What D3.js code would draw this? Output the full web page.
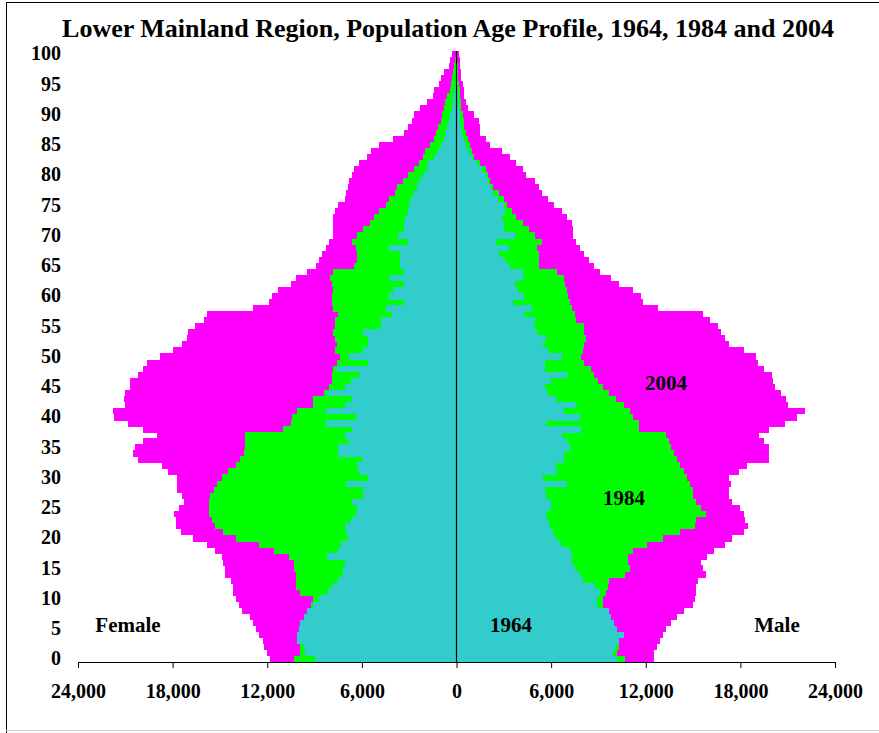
<!DOCTYPE html>
<html>
<head>
<meta charset="utf-8">
<script src="https://cdnjs.cloudflare.com/ajax/libs/d3/7.8.5/d3.min.js"></script>
<style>
    body { margin: 0; background: #fff; }
    #chart text { font-family: "Liberation Serif", "Times New Roman", serif; font-weight: bold; fill: #000; }
</style>
</head>
<body>
<div id="chart"></div>
<script>

// ages 0..100, one bar per single year of age
var ages = d3.range(0, 101);
var ageTicks = [0, 5, 10, 15, 20, 25, 30, 35, 40, 45, 50, 55, 60, 65, 70, 75, 80, 85, 90, 95, 100];
var popTicks = [-24000, -18000, -12000, -6000, 0, 6000, 12000, 18000, 24000];

// 2004
var female2004 = [11800,12000,12200,12300,12500,12700,12900,13100,13600,13800,
    14000,14200,14200,14300,14700,14700,14800,14900,15300,15800,
    16700,17500,17800,17800,17900,17600,17300,17400,17700,17700,
    17700,18300,18700,20200,20500,20400,19900,19000,19900,20800,
    21700,21800,21000,21100,21000,20700,20700,20200,19900,19600,
    18800,18000,17400,17100,17000,16600,16000,15800,12900,11900,
    11700,11300,10500,10200,9500,8900,8700,8500,8300,8100,
    7800,7800,7800,7800,7700,7500,7100,7000,6900,6800,
    6600,6500,6200,5700,5400,4900,4000,3300,3100,2800,
    2700,2300,1900,1500,1400,1100,1000,800,500,400,300];
var male2004 = [12500,12500,12700,12900,13100,13300,13600,14000,14400,15000,
    15100,15200,15200,15300,15800,15600,15500,15900,16300,17000,
    17500,18200,18500,18300,18200,18000,17500,17300,17300,17400,
    17300,17900,18400,19800,19800,19800,19500,19200,19800,20800,
    21600,22100,21000,20900,20600,20200,20100,20000,19500,19100,
    19000,18200,17300,17000,16800,16600,16100,15600,12800,11800,
    11700,11200,10300,9800,9100,8700,8400,8100,7800,7600,
    7400,7400,7300,7000,6700,6200,5800,5400,5200,5000,
    4400,4200,3800,3400,2900,2100,1900,1500,1500,1400,
    1100,700,600,500,500,400,300,300,250,200,150];

// 1984
var female1984 = [10300,9900,9900,9600,9500,9400,9300,9200,9200,9200,
    9100,9900,10200,10200,10200,10300,10300,10600,11600,12500,
    14000,14800,15300,15500,15700,15700,15700,15600,15400,15200,
    14900,14500,14000,13700,13500,13400,13400,13400,11000,10500,
    10400,10100,9100,9100,8400,8100,7900,7900,7800,7600,
    7400,7700,7600,7700,7800,7700,7700,7500,7800,7900,
    7900,7800,7900,8000,7800,6500,6300,6300,6400,6600,
    6300,5900,5500,5200,4900,4500,4300,3900,3800,3400,
    3100,2700,2400,2100,2000,1700,1400,1300,1200,1000,
    900,800,700,600,400,350,300,200,150,100,50];
var male1984 = [10700,10200,10300,10000,10200,10000,9800,9600,9500,9300,
    9300,9500,9600,9700,10700,11000,10900,10900,11200,12100,
    13100,14200,15100,15200,15800,15500,15200,15000,15000,14800,
    14600,14400,14200,14000,13800,13600,13500,13300,11600,11600,
    11200,11000,10600,10100,9700,9300,9000,8700,8500,8100,
    7900,8000,8100,8200,8100,8100,7600,7500,7300,7200,
    7100,7000,6900,6800,6400,5200,5200,5200,5100,5400,
    5000,4600,4200,3800,3500,3200,3000,2700,2300,2100,
    2000,1900,1500,1100,1000,850,700,600,500,450,
    400,300,300,250,200,150,120,100,80,50,30];

// 1964
var female1964 = [9000,9600,9700,10100,10100,10000,9900,9700,9500,9100,
    8700,8200,7900,7500,7200,7200,7100,8200,7500,7300,
    6900,7000,7100,6700,6400,6300,6600,5900,5900,7000,
    5600,6200,6300,6000,7500,7500,6800,7100,6600,8300,
    6400,8300,7100,6600,8200,7100,6700,6200,7600,5600,
    6800,5900,5600,5600,5900,4800,4800,4100,4500,3300,
    4300,4000,3300,4200,3300,3600,3600,3600,4300,3100,
    3700,3300,3300,3200,3100,3000,2900,2700,2500,2400,
    2100,1900,1800,1400,1200,1000,800,700,600,500,
    400,300,250,200,100,80,60,50,30,20,10];
var male1964 = [10200,9900,10100,10300,10600,10200,10000,9800,9700,8900,
    8900,9100,8800,8000,7800,7500,7300,7300,7200,6600,
    6300,6100,5900,5800,5700,6000,6000,5700,5600,7000,
    5500,6400,6300,6800,6800,7200,7000,6700,7900,5700,
    7800,6800,7600,6300,5800,5600,6000,7000,5600,5600,
    6700,5800,5500,5700,5100,4900,5000,4300,4800,3600,
    4300,3900,3700,4200,4200,3400,3100,2700,3300,2500,
    3700,3000,3000,2900,3100,3000,2600,2300,2200,2000,
    1900,1600,1300,1000,800,600,450,350,300,250,
    200,150,120,100,80,50,40,30,20,10,10];

var years = ["2004", "1984", "1964"];
var yearColors = ["#ff00ff", "#00ff00", "#33cccc"];
var femaleSeries = [female2004, female1984, female1964];
var maleSeries = [male2004, male1984, male1964];


// * Creating svg
var width = 879,
    height = 733;

var svg = d3.select("#chart").append("svg")
    .attr("width", width)
    .attr("height", height);

// frame
svg.append("line").attr("x1", 6.5).attr("x2", 6.5).attr("y1", 2).attr("y2", height)
    .attr("stroke", "#000");
svg.append("line").attr("x1", 6).attr("x2", width).attr("y1", 2.5).attr("y2", 2.5)
    .attr("stroke", "#000");
svg.append("line").attr("x1", 6).attr("x2", width).attr("y1", 730.5).attr("y2", 730.5)
    .attr("stroke", "#d0d0d0");


// *  Creating scales
var x = d3.scaleLinear()
    .domain([-24000, 24000])
    .range([78, 835]);

var y = d3.scaleBand()
    .domain(ages)
    .range([662, 51])
    .padding(0);


// * Bars: 2004 at the back, 1964 at the front
years.forEach(function(yr, i) {
    var g = svg.append("g")
        .attr("class", "year-" + yr)
        .attr("shape-rendering", "crispEdges");

    g.selectAll(".female")
        .data(ages)
        .enter()
        .append("rect")
            .attr("class", "female")
            .attr("x", function(d) { return x(-femaleSeries[i][d]); })
            .attr("y", function(d) { return y(d); })
            .attr("width", function(d) { return x(0) - x(-femaleSeries[i][d]); })
            .attr("height", y.bandwidth() + 0.5)
            .attr("fill", yearColors[i]);

    g.selectAll(".male")
        .data(ages)
        .enter()
        .append("rect")
            .attr("class", "male")
            .attr("x", x(0))
            .attr("y", function(d) { return y(d); })
            .attr("width", function(d) { return x(maleSeries[i][d]) - x(0); })
            .attr("height", y.bandwidth() + 0.5)
            .attr("fill", yearColors[i]);
});

// zero line
svg.append("line")
    .attr("x1", x(0)).attr("x2", x(0))
    .attr("y1", y(100)).attr("y2", y.range()[0])
    .attr("stroke", "#000")
    .attr("stroke-width", 1.2);


// * Axes
var xAxis = d3.axisBottom(x)
    .tickValues(popTicks)
    .tickSize(6)
    .tickSizeOuter(0)
    .tickPadding(16)
    .tickFormat(function(d) { return d3.format(",")(Math.abs(d)); });

var xAxisG = svg.append("g")
    .attr("transform", "translate(0," + y.range()[0] + ")")
    .call(xAxis);
xAxisG.selectAll("text").style("font-size", "20px");
xAxisG.selectAll("line, path").attr("stroke", "#000");

var yAxis = d3.axisLeft(y)
    .tickValues(ageTicks)
    .tickSize(0)
    .tickPadding(0);

var yAxisG = svg.append("g")
    .attr("transform", "translate(61,0)")
    .call(yAxis);
yAxisG.select(".domain").remove();
yAxisG.selectAll("text").style("font-size", "20px");


// * Title and labels
svg.append("text")
    .attr("x", 448)
    .attr("y", 37)
    .attr("text-anchor", "middle")
    .style("font-size", "26px")
    .text("Lower Mainland Region, Population Age Profile, 1964, 1984 and 2004");

var labels = [
    { text: "Female", x: 128, y: 632 },
    { text: "Male", x: 777, y: 632 },
    { text: "1964", x: 511, y: 632 },
    { text: "1984", x: 624, y: 505 },
    { text: "2004", x: 666, y: 390 }
];

svg.selectAll(".annot")
    .data(labels)
    .enter()
    .append("text")
        .attr("class", "annot")
        .attr("x", function(d) { return d.x; })
        .attr("y", function(d) { return d.y; })
        .attr("text-anchor", "middle")
        .style("font-size", "21px")
        .text(function(d) { return d.text; });

</script>
</body>
</html>
